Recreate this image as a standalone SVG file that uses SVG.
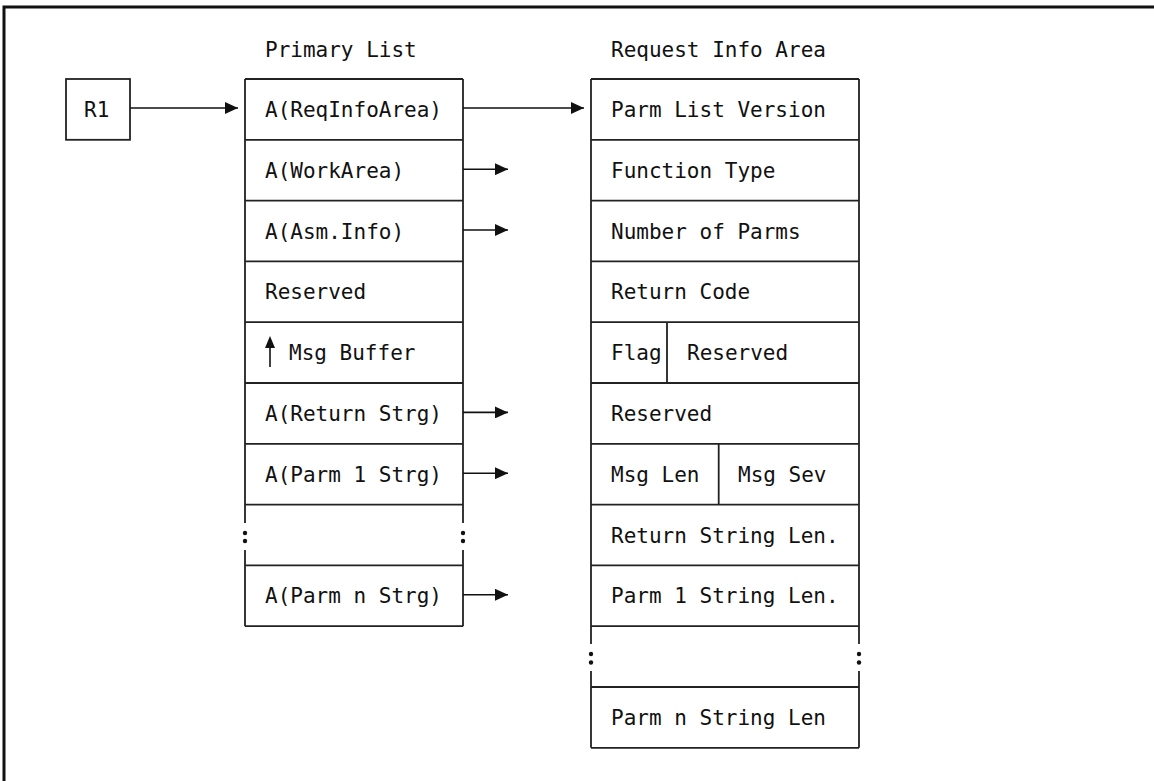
<svg xmlns="http://www.w3.org/2000/svg" width="1154" height="781" viewBox="0 0 1154 781">
<defs>
<style>
.t{font-family:"DejaVu Sans Mono","Liberation Mono",monospace;font-size:21px;fill:#111}
.b{fill:none;stroke:#222;stroke-width:1.8}
.c{stroke:#111;stroke-width:1.6;fill:none}
.d{fill:#111}
</style>
<marker id="ah" markerUnits="userSpaceOnUse" markerWidth="14" markerHeight="12" refX="13" refY="6" orient="auto"><path d="M0,0 L13,6 L0,12 Z" fill="#111"/></marker>
</defs>
<rect width="1154" height="781" fill="#fff"/>
<path d="M4,781 V7 H1154" fill="none" stroke="#111" stroke-width="3"/>

<text class="t" x="265" y="57">Primary List</text>
<text class="t" x="611" y="57">Request Info Area</text>

<g id="r1">
<rect class="b" x="66" y="79" width="64" height="60.8"/>
<text class="t" x="84" y="117">R1</text>
</g>

<g id="primary-list">
<path class="b" d="M245,79 H463 M245,139.8 H463 M245,200.6 H463 M245,261.4 H463 M245,322.2 H463 M245,383 H463 M245,443.8 H463 M245,504.6 H463 M245,565.4 H463 M245,626.2 H463"/>
<path class="b" d="M245,79 V523 M245,550 V626.2 M463,79 V523 M463,550 V626.2"/>
<circle class="d" cx="245" cy="533" r="2.2"/><circle class="d" cx="245" cy="541" r="2.2"/>
<circle class="d" cx="463" cy="533" r="2.2"/><circle class="d" cx="463" cy="541" r="2.2"/>
<text class="t" x="265" y="117">A(ReqInfoArea)</text>
<text class="t" x="265" y="177.8">A(WorkArea)</text>
<text class="t" x="265" y="238.6">A(Asm.Info)</text>
<text class="t" x="265" y="299.4">Reserved</text>
<path class="c" d="M270,367 V346"/><path class="d" d="M265,348 L270,336 L275,348 Z"/>
<text class="t" x="289" y="360.2">Msg Buffer</text>
<text class="t" x="265" y="421">A(Return Strg)</text>
<text class="t" x="265" y="481.8">A(Parm 1 Strg)</text>
<text class="t" x="265" y="603.4">A(Parm n Strg)</text>
</g>

<g id="request-info-area">
<path class="b" d="M591,79 H859 M591,139.8 H859 M591,200.6 H859 M591,261.4 H859 M591,322.2 H859 M591,383 H859 M591,443.8 H859 M591,504.6 H859 M591,565.4 H859 M591,626.2 H859 M591,687 H859 M591,747.8 H859"/>
<path class="b" d="M591,79 V644 M591,671 V747.8 M859,79 V644 M859,671 V747.8 M667,322.2 V383 M718.7,443.8 V504.6"/>
<circle class="d" cx="591" cy="654" r="2.2"/><circle class="d" cx="591" cy="662.5" r="2.2"/>
<circle class="d" cx="859" cy="654" r="2.2"/><circle class="d" cx="859" cy="662.5" r="2.2"/>
<text class="t" x="611" y="117">Parm List Version</text>
<text class="t" x="611" y="177.8">Function Type</text>
<text class="t" x="611" y="238.6">Number of Parms</text>
<text class="t" x="611" y="299.4">Return Code</text>
<text class="t" x="611" y="360.2">Flag</text>
<text class="t" x="687" y="360.2">Reserved</text>
<text class="t" x="611" y="421">Reserved</text>
<text class="t" x="611" y="481.8">Msg Len</text>
<text class="t" x="738" y="481.8">Msg Sev</text>
<text class="t" x="611" y="542.6">Return String Len.</text>
<text class="t" x="611" y="603.4">Parm 1 String Len.</text>
<text class="t" x="611" y="725">Parm n String Len</text>
</g>

<g id="connectors">
<line class="c" x1="130" y1="108" x2="238" y2="108" marker-end="url(#ah)"/>
<line class="c" x1="463" y1="108" x2="584" y2="108" marker-end="url(#ah)"/>
<line class="c" x1="463" y1="169.2" x2="508" y2="169.2" marker-end="url(#ah)"/>
<line class="c" x1="463" y1="230" x2="508" y2="230" marker-end="url(#ah)"/>
<line class="c" x1="463" y1="412.4" x2="508" y2="412.4" marker-end="url(#ah)"/>
<line class="c" x1="463" y1="473.2" x2="508" y2="473.2" marker-end="url(#ah)"/>
<line class="c" x1="463" y1="594.8" x2="508" y2="594.8" marker-end="url(#ah)"/>
</g>
</svg>
